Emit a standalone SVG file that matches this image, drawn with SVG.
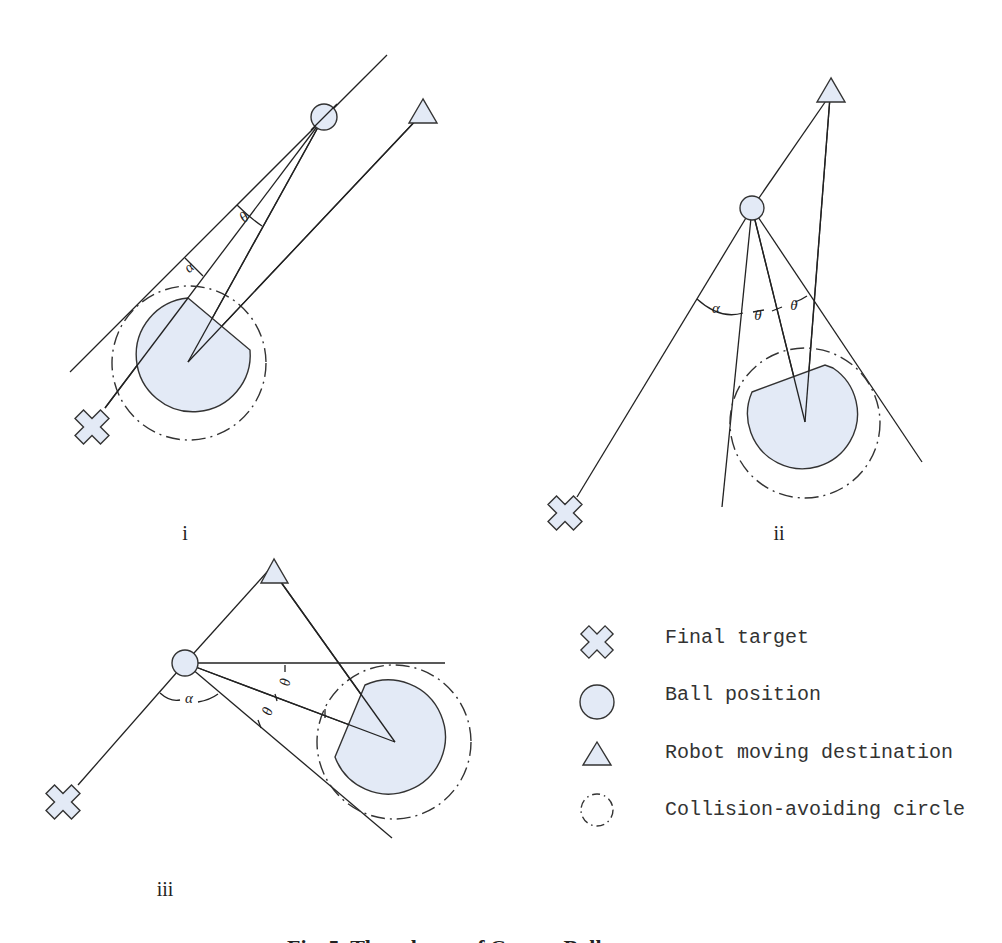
<svg xmlns="http://www.w3.org/2000/svg" width="1002" height="943" viewBox="0 0 1002 943">
<defs>
<style>
.ln{stroke:#222;stroke-width:1.3;fill:none}
.sh{fill:#e3eaf6;stroke:#333;stroke-width:1.4}
.dd{fill:none;stroke:#333;stroke-width:1.4;stroke-dasharray:14 5 2 5}
.lb{font-family:"Liberation Serif",serif;font-size:20px;fill:#222}
.gk{font-family:"Liberation Serif",serif;font-size:15px;fill:#222;font-style:italic}
.lg{font-family:"Liberation Mono",monospace;font-size:20px;fill:#333}
</style>
<path id="crs" d="M-6,-18 H6 V-6 H18 V6 H6 V18 H-6 V6 H-18 V-6 H-6 Z"/>
</defs>
<rect width="1002" height="943" fill="#fff"/>
<g id="connectors">
<line class="ln" x1="70" y1="372" x2="387" y2="55"/>
<line class="ln" x1="322" y1="120" x2="105" y2="408"/>
<line class="ln" x1="322" y1="120" x2="188" y2="362"/>
<line class="ln" x1="420" y1="116" x2="188" y2="362"/>
<path class="ln" d="M237,205 Q250,218 262,226"/>
<path class="ln" d="M185,258 Q195,268 203,276"/>
<line class="ln" x1="752" y1="208" x2="830" y2="95"/>
<line class="ln" x1="752" y1="208" x2="577" y2="497"/>
<line class="ln" x1="830" y1="97" x2="805" y2="422"/>
<line class="ln" x1="752" y1="208" x2="805" y2="422"/>
<line class="ln" x1="752" y1="208" x2="722" y2="507"/>
<line class="ln" x1="752" y1="208" x2="922" y2="462"/>
<path class="ln" d="M697,299 Q720,320 743,313 M753,312 L764,310 M772,311 L782,307 M795,302 Q801,300 807,296"/>
<line class="ln" x1="185" y1="663" x2="276" y2="562"/>
<line class="ln" x1="278" y1="578" x2="395" y2="742"/>
<line class="ln" x1="185" y1="663" x2="445" y2="663"/>
<line class="ln" x1="185" y1="663" x2="395" y2="742"/>
<line class="ln" x1="185" y1="663" x2="392" y2="838"/>
<line class="ln" x1="185" y1="663" x2="78" y2="785"/>
<path class="ln" d="M160,693 Q170,702 180,700 M198,702 Q210,700 218,694"/>
<path class="ln" d="M285,665 V672 M275,694 L277,701 M325,709 L325,718 M258,720 L261,728"/>
</g>
<g id="robot-i">
<circle class="dd" cx="189" cy="363" r="77"/>
<path class="sh" d="M188,298 L250,350 A57,57 0 1 1 188,298 Z"/>
</g>
<g id="robot-ii">
<circle class="dd" cx="805" cy="423" r="75"/>
<path class="sh" d="M752,392 L825,365 L833,368 A55,55 0 1 1 752,392 Z"/>
</g>
<g id="robot-iii">
<circle class="dd" cx="394" cy="742" r="77"/>
<path class="sh" d="M365,685 A57,57 0 1 1 335,757 Z"/>
</g>
<g id="overlap-lines">
<line class="ln" x1="322" y1="120" x2="188" y2="362"/>
<line class="ln" x1="420" y1="116" x2="188" y2="362"/>
<line class="ln" x1="188" y1="298" x2="105" y2="408"/>
<line class="ln" x1="830" y1="97" x2="805" y2="422"/>
<line class="ln" x1="752" y1="208" x2="805" y2="422"/>
<line class="ln" x1="278" y1="578" x2="395" y2="742"/>
<line class="ln" x1="185" y1="663" x2="395" y2="742"/>
</g>
<g id="ball-i"><circle class="sh" cx="324" cy="117" r="13"/><line class="ln" x1="311" y1="130" x2="337" y2="104"/></g>
<g id="dest-i"><polygon class="sh" points="423,99 409,123 437,123"/></g>
<g id="target-i"><use href="#crs" class="sh" transform="translate(92,427) rotate(45)"/></g>
<g id="ball-ii"><circle class="sh" cx="752" cy="208" r="12"/></g>
<g id="dest-ii"><polygon class="sh" points="831,78 817,102 845,102"/></g>
<g id="target-ii"><use href="#crs" class="sh" transform="translate(565,513) rotate(45)"/></g>
<g id="ball-iii"><circle class="sh" cx="185" cy="663" r="13"/></g>
<g id="dest-iii"><polygon class="sh" points="274,559 261,583 288,583"/></g>
<g id="target-iii"><use href="#crs" class="sh" transform="translate(63,802) rotate(45)"/></g>
<g id="angle-labels">
<text class="gk" transform="translate(247,221) rotate(-40)" text-anchor="middle">θ</text>
<text class="gk" transform="translate(192,271) rotate(-40)" text-anchor="middle">α</text>
<text class="gk" x="716" y="313" text-anchor="middle">α</text>
<text class="gk" x="758" y="320" text-anchor="middle">θ</text>
<text class="gk" x="794" y="310" text-anchor="middle">θ</text>
<text class="gk" x="189" y="703" text-anchor="middle">α</text>
<text class="gk" transform="translate(290,683) rotate(-80)" text-anchor="middle">θ</text>
<text class="gk" transform="translate(272,713) rotate(-70)" text-anchor="middle">θ</text>
</g>
<g id="panel-labels">
<text class="lb" x="185" y="540" text-anchor="middle">i</text>
<text class="lb" x="779" y="540" text-anchor="middle">ii</text>
<text class="lb" x="165" y="896" text-anchor="middle">iii</text>
</g>
<g id="legend">
<use href="#crs" class="sh" transform="translate(597,642) rotate(45) scale(0.95)"/>
<circle class="sh" cx="597" cy="702" r="17"/>
<polygon class="sh" points="597,742 583,765 611,765"/>
<circle class="dd" cx="597" cy="810" r="16" style="stroke-dasharray:8 4 1.5 4"/>
<text class="lg" x="665" y="643">Final target</text>
<text class="lg" x="665" y="700">Ball position</text>
<text class="lg" x="665" y="758">Robot moving destination</text>
<text class="lg" x="665" y="815">Collision-avoiding circle</text>
</g>
<text x="287" y="955" style="font-family:'Liberation Serif',serif;font-size:22px;font-weight:bold;fill:#222">Fig. 5. The scheme of Corner Ball</text>
</svg>
